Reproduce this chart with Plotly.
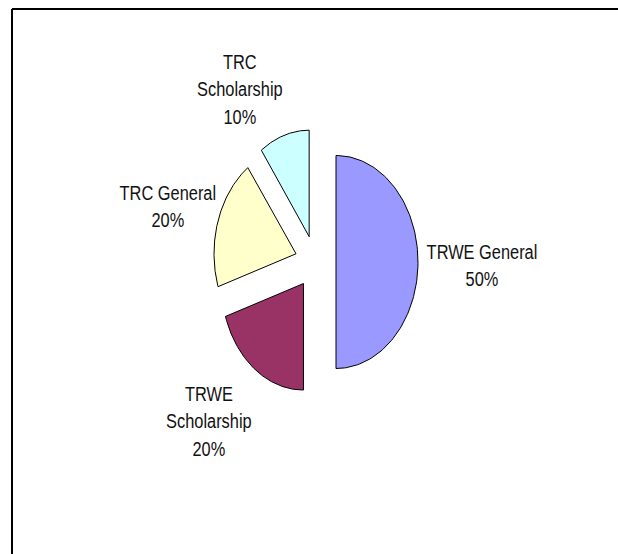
import numpy as np
import plotly.graph_objects as go

# ---- data ----
categories = ["TRWE General", "TRWE Scholarship", "TRC General", "TRC Scholarship"]
values = [50, 20, 20, 10]
label_text = ["TRWE General<br>50%", "TRWE<br>Scholarship<br>20%",
              "TRC General<br>20%", "TRC<br>Scholarship<br>10%"]
colors = ["#9999FF", "#993366", "#FFFFCC", "#CCFFFF"]

# ---- layout constants (pixel-like axes) ----
W, H = 618, 554
CX, CY = 315.5, 262.0      # pie centre
RX, RY = 82.0, 106.5       # elliptical radii
EXPLODE = 0.25
# label block centres (layout)
label_pos = [(482, 265), (209, 421), (168, 206), (240, 89)]

fig = go.Figure()
total = float(sum(values))
start = 0.0
for cat, v, col in zip(categories, values, colors):
    a0 = start
    a1 = start + v / total * 2 * np.pi
    mid = (a0 + a1) / 2
    ox = CX + EXPLODE * RX * np.sin(mid)
    oy = CY - EXPLODE * RY * np.cos(mid)
    th = np.linspace(a0, a1, 120)
    xs = np.concatenate([[ox], ox + RX * np.sin(th), [ox]])
    ys = np.concatenate([[oy], oy - RY * np.cos(th), [oy]])
    fig.add_trace(go.Scatter(x=xs, y=ys, mode="lines", fill="toself",
                             fillcolor=col, line=dict(color="black", width=1),
                             name=cat, hoverinfo="skip", showlegend=False))
    start = a1

for txt, (lx, ly) in zip(label_text, label_pos):
    fig.add_annotation(x=lx, y=ly, text=txt, showarrow=False,
                       xanchor="center", yanchor="middle", align="center",
                       font=dict(family="Liberation Sans, Arial",
                                 size=21, color="#111111"))

# chart border: only top and left edges are visible (rest cropped off)
fig.add_shape(type="line", x0=12, y0=9, x1=W + 40, y1=9,
              xref="x", yref="y", line=dict(color="black", width=2))
fig.add_shape(type="line", x0=12, y0=9, x1=12, y1=H + 40,
              xref="x", yref="y", line=dict(color="black", width=2))

fig.update_layout(width=W, height=H, autosize=False,
                  margin=dict(l=0, r=0, t=0, b=0),
                  paper_bgcolor="white", plot_bgcolor="white",
                  xaxis=dict(range=[0, W], visible=False, fixedrange=True),
                  yaxis=dict(range=[H, 0], visible=False, fixedrange=True))

post = """
document.body.style.margin = '0';
document.body.style.overflow = 'hidden';
var gd = document.getElementById('{plot_id}');
gd.querySelectorAll('text.annotation-text').forEach(function(t) {
    var x = parseFloat(t.getAttribute('x')) || 0;
    t.setAttribute('transform', 'translate(' + x + ',0) scale(0.78,1) translate(' + (-x) + ',0)');
});
"""

fig.write_html("out.html", config={"displayModeBar": False}, post_script=post)
